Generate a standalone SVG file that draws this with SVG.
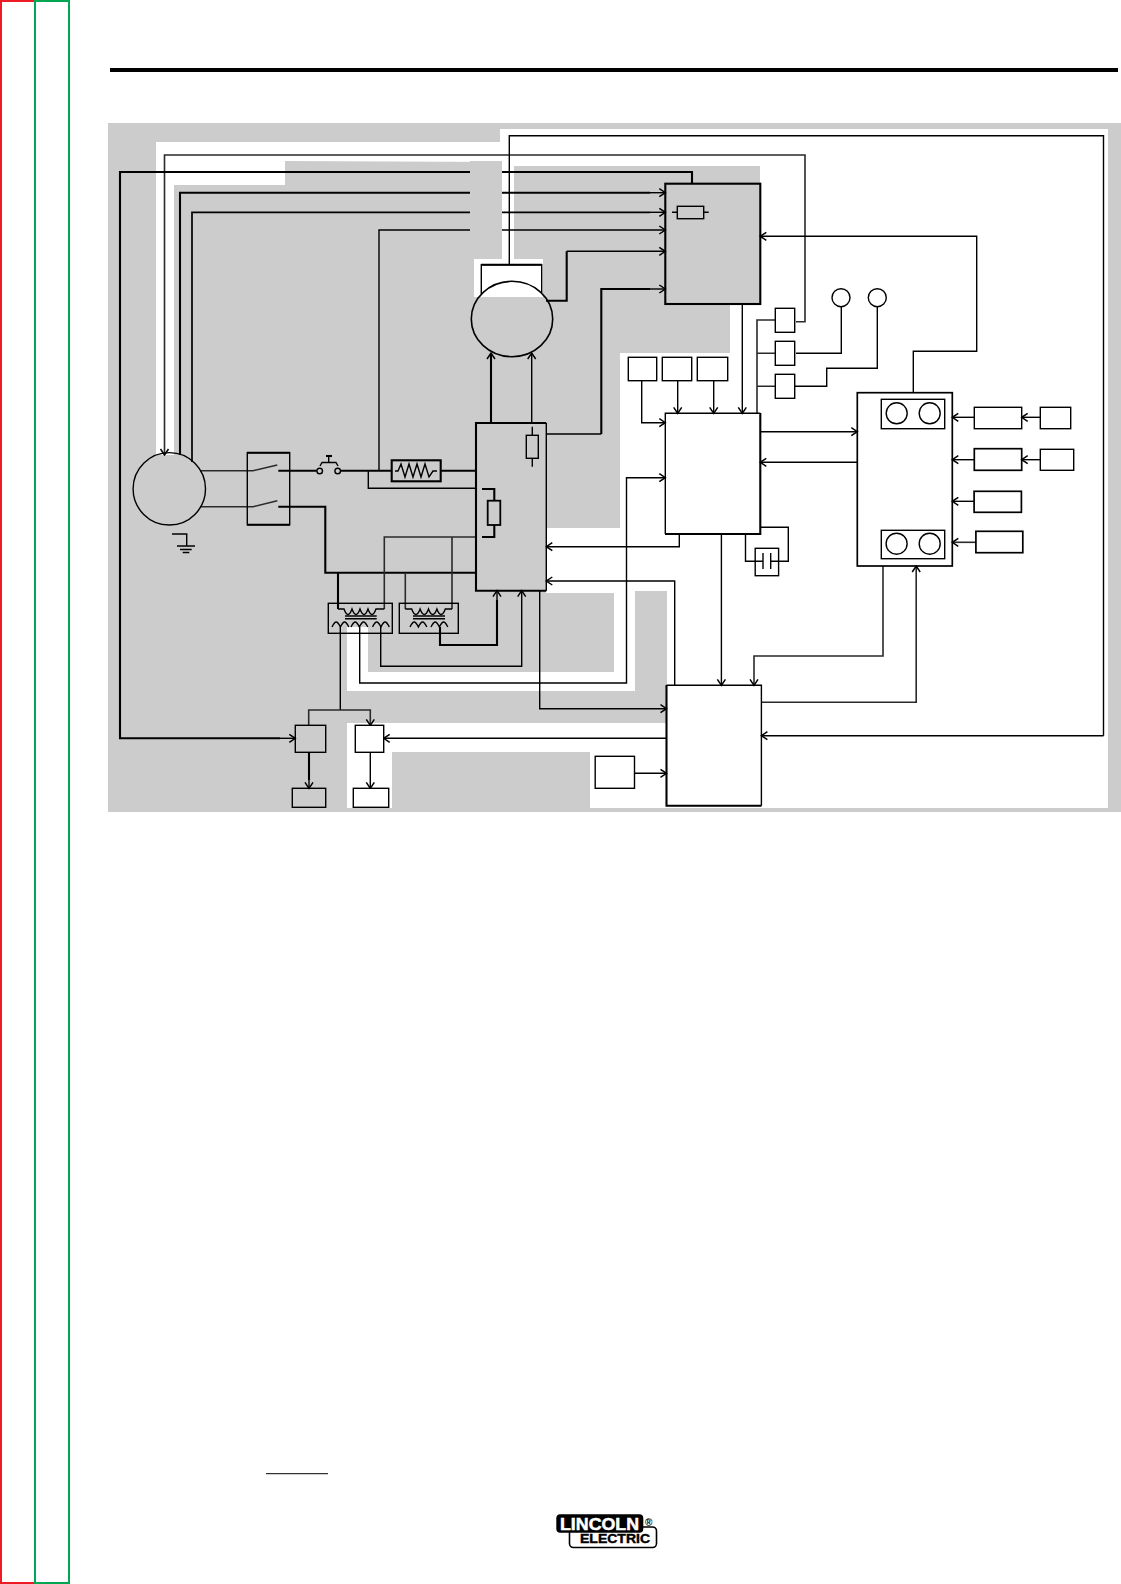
<svg xmlns="http://www.w3.org/2000/svg" width="1121" height="1584" viewBox="0 0 1121 1584">
<style>
.l{fill:none;stroke:#000;stroke-width:1.4}
.d{fill:none;stroke:#2a2a2a;stroke-width:1.6}
.k{fill:none;stroke:#000;stroke-width:2.1}
.g{fill:#ccc;stroke:none}
.b{fill:none;stroke:#000;stroke-width:1.4}
.w{fill:#fff;stroke:#000;stroke-width:1.4}
.a{marker-end:url(#arr)}
text{font-family:"Liberation Sans",Arial,sans-serif;font-weight:bold}
</style>
<defs>
<marker id="arr" markerUnits="userSpaceOnUse" markerWidth="12" markerHeight="12" refX="8" refY="6" orient="auto" overflow="visible">
<path d="M2,2 L8,6 L2,10" fill="none" stroke="#000" stroke-width="1.5"/>
</marker>
</defs>
<rect width="1121" height="1584" fill="#fff"/>
<g id="page-frame" fill="none" stroke-width="2">
<path d="M35,1 H1 V1583 H35" stroke="#ed1c24"/>
<rect x="35" y="1" width="34" height="1582" stroke="#00a651"/>
<rect x="110" y="68" width="1008" height="4" fill="#000" stroke="none"/>
<path d="M266,1473.7 H328" stroke="#000" stroke-width="1"/>
</g>
<g id="background">
<rect x="108" y="123" width="1013" height="689" class="g"/>
<path fill="#fff" d="M156,142 H500 V129 H1108 V808 H590 V752 H392 V808 H347 V723 H667 V591 H635 V691 H347 V627 H368 V672 H614 V593 H546 V528 H620 V353 H730 V304 H760 V166 H514 V259 H543 V297 H474 V259 H502 V162 L285,161 V185 H174 V455 H156 Z"/>
</g>
<g id="connectors">
<path class="d a" d="M796,321.7 H805 V155 H164.5 V455"/>
<path class="k" d="M692,183 V172 H120 V738.3 H280"/>
<path class="l a" d="M280,738.3 H295.3"/>
<path class="k" d="M180,455 V192.7 H650"/>
<path class="l a" d="M650,192.7 H665.3"/>
<path class="l" d="M192,462 V212.3 H650" style="stroke-width:1.7"/>
<path class="l a" d="M650,212.3 H665.3"/>
<path class="l a" d="M379,470.7 V230 H665.3"/>
<path class="k" d="M546,300.7 H566.7 V251.3"/>
<path class="l a" d="M566.7,251.3 H665.3"/>
<path class="l" d="M546.3,434 H601.3"/>
<path class="k" d="M601.3,434 V289 H650"/>
<path class="l a" d="M650,289 H665.3"/>
<path class="l" d="M509.3,265 V135.7 H1103.5 V735.7"/>
<path class="l a" d="M1103.5,735.7 H761.4"/>
<path class="k a" d="M491,423 V353"/>
<path class="l a" d="M531.7,423 V353"/>
<path class="l a" d="M913.3,392.7 V351.3 H976.7 V236.3 H760.3"/>
<path class="l a" d="M641.7,380.7 V422.7 H665.3"/>
<path class="l a" d="M677.7,380.7 V413.3"/>
<path class="l a" d="M713.7,380.7 V413.3"/>
<path class="l a" d="M742.3,304 V413.3"/>
<path class="d" d="M757,413.3 V320 H775.3 M757,353.3 H775.3 M757,386.3 H775.3"/>
<path class="l" d="M796,353.3 H841.3 V306.7"/>
<path class="l" d="M794.7,386.3 H826.7 V368.3 H877.3 V306.7"/>
<path class="l a" d="M760.3,431.7 H857.3"/>
<path class="l a" d="M857.3,462.3 H760.3"/>
<path class="l a" d="M974.3,417.3 H952.3"/>
<path class="l a" d="M1040.3,417.3 H1021.7"/>
<path class="l a" d="M974.3,459.7 H952.3"/>
<path class="l a" d="M1040.3,459.7 H1021.7"/>
<path class="l a" d="M974.1,501.3 H952.3"/>
<path class="d a" d="M975.9,542.3 H952.3"/>
<path class="l a" d="M679.3,534 V546.7 H546.3"/>
<path class="l a" d="M359.7,627 V683 H626.5 V477.7 H665.3"/>
<path class="l a" d="M674.7,685.3 V581 H546.3"/>
<path class="l a" d="M721.4,534 V685.3"/>
<path class="d a" d="M883,566 V656 H754 V685.3"/>
<path class="d a" d="M761.4,702.3 H916.2 V566"/>
<path class="l a" d="M666.5,738.3 H383.7"/>
<path class="l a" d="M539.7,590.7 V708.7 H666.5"/>
<path class="l a" d="M634.5,773.3 H666.5"/>
<path class="l" d="M745.5,534 V561.3 H763 M770.7,561.3 H788.3 V527.3 H760.3"/>
<path class="l" d="M763,553 V569 M770.7,553 V569"/>
<path class="d" d="M200,470.7 H253 L277.3,465"/>
<path class="k" d="M278.3,470.7 H316.7 M341,470.7 H391.7 M440.7,470.7 H476"/>
<path class="l" d="M368.3,470.7 V488.3 H476"/>
<path class="d" d="M200,506.7 H253 L277.3,500.7"/>
<path class="k" d="M278.3,506.7 H325.3 V572.7 H476"/>
<path class="d" d="M476,537 H384.3 V609 M452,537 V609"/>
<path class="k" d="M338,572.7 V609"/>
<path class="d" d="M405.3,572.7 V609"/>
<path class="l" d="M340.3,627 V710"/>
<path class="d a" d="M308.7,725.3 V710 H370.3 V725.3"/>
<path class="l a" d="M380.7,627 V666.3 H521.7 V590.7"/>
<path class="k" d="M440,627 V645 H497 V600"/>
<path class="l a" d="M497,600 V590.7"/>
<path class="k" d="M309,752.3 V780"/>
<path class="l a" d="M309,780 V788.3"/>
<path class="l a" d="M370.3,752.3 V788.3"/>
</g>
<path id="line-mask" class="g" d="M470,161 H502 V240 H470 Z"/>
<g id="motor-left"><circle cx="169.3" cy="488.8" r="36.2" class="b"/></g>
<g id="ground"><path class="l" d="M172,534 H186.7 V546 M177,546 H195 M180,549.5 H191.7 M182.7,552.5 H189.3"/></g>
<g id="switch"><rect x="247.3" y="452.7" width="42.4" height="72" class="b"/><path class="k" d="M247,452.7 H290 M247,524.7 H290"/></g>
<g id="pushbutton">
<circle cx="319.7" cy="471" r="2.8" class="b"/><circle cx="337.7" cy="471" r="2.8" class="b"/>
<path class="l" d="M320,466 L322,462.5 H336 L338,466 M328.7,462.5 V456"/><path class="k" d="M326,456 H332"/>
</g>
<g id="heater">
<rect x="391.7" y="460.3" width="49" height="21" class="k"/>
<path class="l" d="M395,471 H398 L401,464 L405,477 L409,464 L413,477 L417,464 L421,477 L425,464 L429,477 L433,471 H437"/>
</g>
<g id="rectifier">
<path class="l" d="M546.3,423 V590.7"/>
<path class="k" d="M546.3,423 H476 V590.7 H546.3"/>
<rect x="526.3" y="435.3" width="12" height="23" class="b"/>
<path class="l" d="M532.3,426.7 V435.3 M532.3,458.3 V466.7"/>
<path class="k" d="M482,489 H494.3 V500.7 M494.3,525 V537 H482"/>
<rect x="487.7" y="500.7" width="12.6" height="24.3" class="k" style="stroke-width:1.8"/>
</g>
<g id="alternator">
<path class="b" d="M481.3,294 V264.7 H541.7 V293"/>
<path class="k" d="M481,264.7 H542"/>
<ellipse cx="512" cy="319" rx="40.7" ry="37.7" class="b" style="stroke-width:1.6"/>
</g>
<g id="transformer-1">
<rect x="328.3" y="603.3" width="64" height="30" class="b"/>
<path class="l" d="M338,609 H344 q2,5.5 4,5.5 t4,-5.5 q2,5.5 4,5.5 t4,-5.5 q2,5.5 4,5.5 t4,-5.5 q2,5.5 4,5.5 t4,-5.5 H384.3"/>
<path class="l" d="M345,616 H376.7 M345,618.7 H376.7"/>
<path class="l" d="M332,627 q2.5,-5 4.2,-5 t4.2,5 q2.5,-5 4.2,-5 t4.2,5 M351,627 q2.5,-5 4.2,-5 t4.2,5 q2.5,-5 4.2,-5 t4.2,5 M372.5,627 q2.5,-5 4.2,-5 t4.2,5 q2.5,-5 4.2,-5 t4.2,5"/>
</g>
<g id="transformer-2">
<rect x="399.3" y="603.3" width="59" height="30" class="b"/>
<path class="l" d="M405.3,609 H411.7 q2,5.5 4.2,5.5 t4.2,-5.5 q2,5.5 4.2,5.5 t4.2,-5.5 q2,5.5 4.2,5.5 t4.2,-5.5 q2,5.5 4.2,5.5 t4.2,-5.5 H452"/>
<path class="l" d="M413,616 H445 M413,618.7 H445"/>
<path class="l" d="M410,627 q2.5,-5 4.2,-5 t4.2,5 q2.5,-5 4.2,-5 t4.2,5 M431,627 q2.5,-5 4.2,-5 t4.2,5 q2.5,-5 4.2,-5 t4.2,5"/>
</g>
<g id="box-b1"><rect x="295.3" y="725.3" width="30.4" height="27" class="b"/></g>
<g id="box-b2"><rect x="355.3" y="725.3" width="28.4" height="27" class="w"/></g>
<g id="box-b3"><rect x="292.3" y="788.3" width="33.4" height="19" class="b"/></g>
<g id="box-b4"><rect x="353.3" y="788.3" width="35.4" height="19" class="w"/></g>
<g id="top-box">
<rect x="665.3" y="183.7" width="95" height="120.3" class="k"/>
<rect x="677.3" y="206.3" width="26.4" height="12.4" class="b"/>
<path class="l" d="M672,212.3 H677.3 M703.7,212.3 H708.7"/>
</g>
<g id="mid-box">
<path class="l" d="M760.3,413.3 H665.3 V534"/>
<path class="k" d="M665,534 H760.3 V413"/>
</g>
<g id="low-box">
<path class="l" d="M666.5,685.3 H761.4 V805.7"/>
<path class="k" d="M666.5,685 V805.7 H761.4"/>
</g>
<g id="right-box">
<rect x="857.3" y="392.7" width="95" height="173.3" class="b" style="stroke-width:1.7"/>
<rect x="881.3" y="399.3" width="63.4" height="29.4" class="b"/>
<circle cx="896.7" cy="413.3" r="10.5" class="b"/><circle cx="929.7" cy="413.3" r="10.5" class="b"/>
<rect x="881.3" y="530.3" width="63.4" height="28.4" class="b"/>
<circle cx="896.6" cy="543.7" r="10.5" class="b"/><circle cx="929.7" cy="543.7" r="10.5" class="b"/>
</g>
<g id="in-a"><rect x="628.3" y="357.3" width="28.4" height="23.4" class="b"/></g>
<g id="in-b"><rect x="662.3" y="357.3" width="29.4" height="23.4" class="b"/></g>
<g id="in-c"><rect x="697.3" y="357.3" width="30.4" height="23.4" class="b"/></g>
<g id="s1"><rect x="775.3" y="308.3" width="19.4" height="24" class="b"/></g>
<g id="s2"><rect x="775.3" y="341.3" width="19.4" height="24" class="b"/></g>
<g id="s3"><rect x="775.3" y="374.3" width="19.4" height="24" class="b"/></g>
<g id="meter-1"><circle cx="841" cy="297.7" r="9" class="b"/></g>
<g id="meter-2"><circle cx="877.3" cy="297.7" r="9" class="b"/></g>
<g id="r1"><rect x="974.3" y="407.3" width="47.4" height="21.4" class="b"/></g>
<g id="r1b"><rect x="1040.3" y="407.3" width="30.4" height="21.4" class="b"/></g>
<g id="r2"><rect x="974.3" y="448.7" width="47.4" height="21.6" class="b" style="stroke-width:1.7"/></g>
<g id="r2b"><rect x="1040.3" y="449.3" width="33.4" height="21" class="b"/></g>
<g id="r3"><rect x="974.1" y="491.3" width="47.3" height="21" class="b" style="stroke-width:1.7"/></g>
<g id="r4"><rect x="975.9" y="531.3" width="46.9" height="21.4" class="b" style="stroke-width:1.7"/></g>
<g id="capacitor"><rect x="755.2" y="548.3" width="23.4" height="27.4" class="b"/></g>
<g id="small-box"><rect x="595.2" y="756.3" width="39.3" height="32" class="b"/></g>
<g id="logo">
<rect x="569.5" y="1527" width="87" height="20.5" rx="4" fill="#fff" stroke="#000" stroke-width="1.6"/>
<rect x="556.3" y="1514.3" width="87" height="18.5" rx="4" fill="#000"/>
<text x="560" y="1529.5" font-size="17" fill="#fff" stroke="#fff" stroke-width="0.5" textLength="79" lengthAdjust="spacingAndGlyphs">LINCOLN</text>
<text x="580" y="1543" font-size="12" fill="#000" stroke="#000" stroke-width="0.4" textLength="70" lengthAdjust="spacingAndGlyphs">ELECTRIC</text>
<text x="645" y="1526" font-size="10" fill="#000">®</text>
</g>
</svg>
